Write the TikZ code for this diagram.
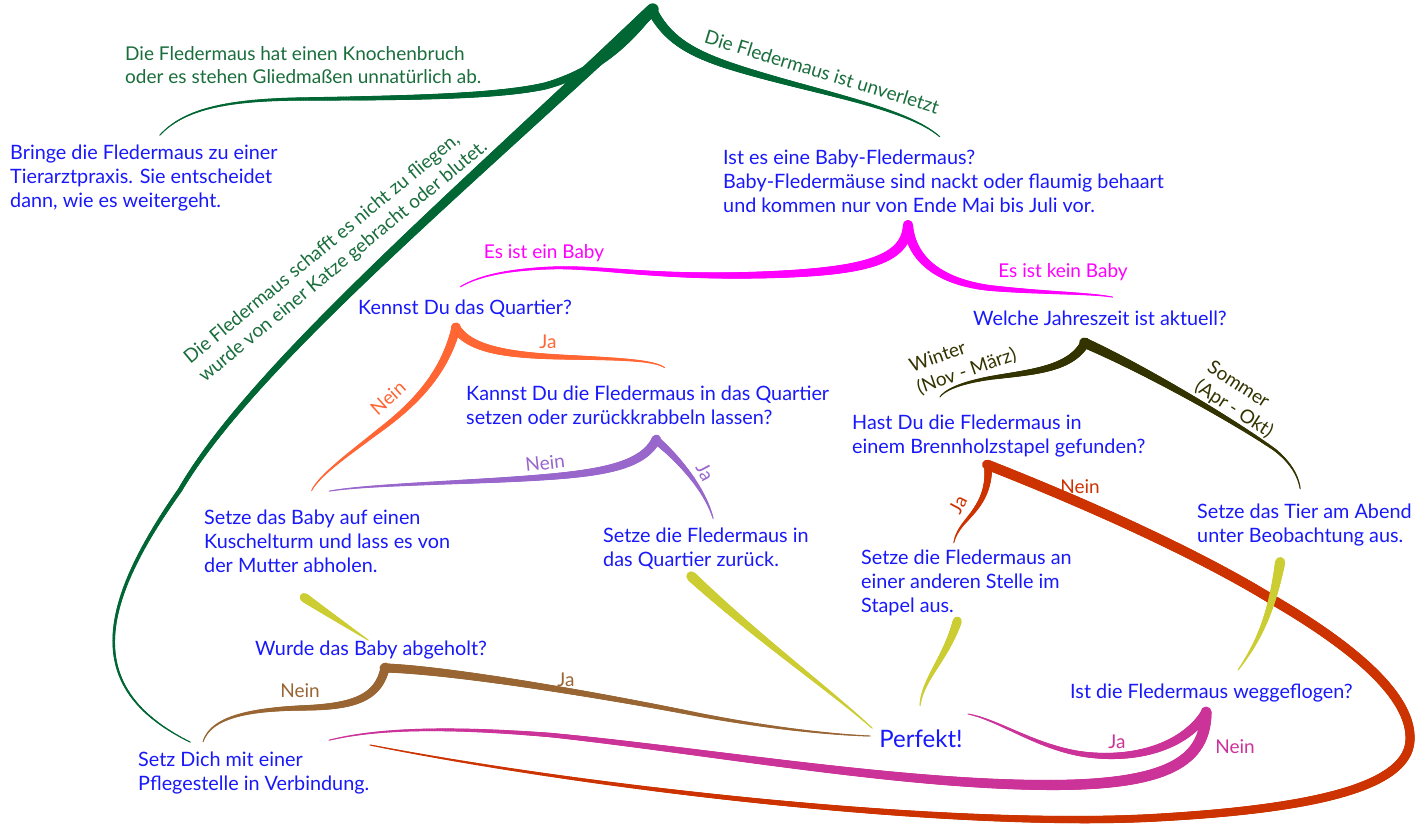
\documentclass[tikz,border=0pt]{standalone}
\usepackage{fontspec}
\setmainfont{Lato}
\usetikzlibrary{decorations.markings}

\definecolor{qblue}{RGB}{25,25,250}
\definecolor{dgreen}{RGB}{0,102,51}
\definecolor{tgreen}{RGB}{25,110,60}
\definecolor{cMag}{RGB}{255,0,255}
\definecolor{cOra}{RGB}{255,102,51}
\definecolor{cPur}{RGB}{153,102,204}
\definecolor{cOli}{RGB}{51,51,0}
\definecolor{cRed}{RGB}{204,51,0}
\definecolor{cRose}{RGB}{204,51,153}
\definecolor{cBro}{RGB}{153,102,51}
\definecolor{cYel}{RGB}{204,204,51}

\tikzset{
  txt/.style={text=qblue, font=\fontsize{19.8}{24}\selectfont, align=left, inner sep=0pt, anchor=west},
  lbl/.style={text=#1, font=\fontsize{19}{23}\selectfont, inner sep=0pt},
  branch/.style n args={3}{color=#1, line cap=round, postaction={decorate}, decoration={markings,
      mark=between positions 0 and 1 step 1.6pt with {
        \pgfmathsetmacro\brw{0.9+(#2-0.9)*(1-max(\pgfkeysvalueof{/pgf/decoration/mark info/distance from start}/\pgfdecoratedpathlength,0.0001)^#3)}
        \pgfsetlinewidth{\brw pt}
        \pgfpathmoveto{\pgfpoint{-1pt}{0pt}}
        \pgfpathlineto{\pgfpoint{1pt}{0pt}}
        \pgfusepath{stroke}
      }}},
}

\begin{document}
\begin{tikzpicture}[x=1pt, y=-1pt]
  \fill[white] (0,0) rectangle (1425,826);
  \useasboundingbox (0,0) rectangle (1425,826);

  \coordinate (rootA) at (652,10);
  \coordinate (rootB) at (908,226);
  \coordinate (rootC) at (456,328);
  \coordinate (rootD) at (656,440);
  \coordinate (rootE) at (1085,343);
  \coordinate (rootF) at (988,465);
  \coordinate (rootG) at (385,668);
  \coordinate (rootH) at (1206,713);

  \coordinate (eBringe) at (160,135);
  \coordinate (eBaby) at (940,137);
  \coordinate (eKennst) at (460,287);
  \coordinate (eWelche) at (1112,297);
  \coordinate (eKannst) at (665,368);
  \coordinate (eKuschelA) at (312,490);
  \coordinate (eKuschelB) at (330,491);
  \coordinate (eZurueck) at (713,518);
  \coordinate (eHast) at (940,397);
  \coordinate (eAbend) at (1300,488);
  \coordinate (eStapel) at (954,542);
  \coordinate (eAbgeholt) at (368,640);
  \coordinate (eWeg) at (1238,670);
  \coordinate (ePerfektA) at (968,714);
  \coordinate (ePerfektB) at (870,736);
  \coordinate (ePerfektC) at (872,728);
  \coordinate (ePerfektD) at (920,706);
  \coordinate (ePflegeA) at (190,742);
  \coordinate (ePflegeB) at (370,745);
  \coordinate (ePflegeC) at (330,740);
  \coordinate (ePflegeD) at (203,742);
  \coordinate (sKuschel) at (305,598);
  \coordinate (sZurueck) at (692,577);
  \coordinate (sStapel) at (957,622);
  \coordinate (sAbend) at (1280,563);

  \path[branch={dgreen}{9}{1}] (rootA) .. controls (625,45) and (595,72) .. (545,86) .. controls (500,96) and (420,98) .. (300,99) .. controls (230,100) and (185,108) .. (eBringe);
  \path[branch={dgreen}{12}{1}] (rootA) .. controls (450,200) and (250,370) .. (180,490) .. controls (95,610) and (85,690) .. (ePflegeA);
  \path[branch={dgreen}{10}{1}] (rootA) .. controls (670,45) and (700,58) .. (760,75) .. controls (830,95) and (910,110) .. (eBaby);

  \path[branch={cMag}{10}{1}] (rootB) .. controls (905,262) and (860,272) .. (760,275) .. controls (650,278) and (600,266) .. (550,268) .. controls (500,270) and (475,278) .. (eKennst);
  \path[branch={cMag}{10}{1}] (rootB) .. controls (912,260) and (940,282) .. (990,288) .. controls (1040,293) and (1090,293) .. (eWelche);

  \path[branch={cOra}{9}{1}] (rootC) .. controls (470,350) and (510,355) .. (560,357) .. controls (620,359) and (655,360) .. (eKannst);
  \path[branch={cOra}{9}{1}] (rootC) .. controls (445,370) and (420,400) .. (380,430) .. controls (345,457) and (320,475) .. (eKuschelA);

  \path[branch={cPur}{9}{1}] (rootD) .. controls (640,470) and (590,475) .. (500,480) .. controls (420,484) and (360,486) .. (eKuschelB);
  \path[branch={cPur}{8}{1}] (rootD) .. controls (680,460) and (705,490) .. (eZurueck);

  \path[branch={cOli}{9}{1}] (rootE) .. controls (1070,370) and (1030,372) .. (990,378) .. controls (960,383) and (945,390) .. (eHast);
  \path[branch={cOli}{10}{1}] (rootE) .. controls (1150,372) and (1240,425) .. (1275,450) .. controls (1290,462) and (1298,475) .. (eAbend);

  \path[branch={cRed}{8}{1}] (rootF) .. controls (990,495) and (975,510) .. (965,522) .. controls (958,530) and (955,537) .. (eStapel);
  \path[branch={cRed}{10}{2}] (rootF) .. controls (1090,505) and (1200,555) .. (1273,600) .. controls (1350,645) and (1412,695) .. (1410,740) .. controls (1408,790) and (1300,810) .. (1150,818) .. controls (950,828) and (600,790) .. (ePflegeB);

  \path[branch={cRose}{10}{1}] (rootH) .. controls (1185,745) and (1140,760) .. (1090,755) .. controls (1040,750) and (1000,720) .. (ePerfektA);
  \path[branch={cRose}{11}{1.5}] (rootH) .. controls (1205,760) and (1170,785) .. (1050,785) .. controls (900,785) and (700,750) .. (550,735) .. controls (450,727) and (380,728) .. (ePflegeC);

  \path[branch={cBro}{9}{1}] (rootG) .. controls (450,670) and (600,695) .. (700,715) .. controls (780,730) and (840,735) .. (ePerfektB);
  \path[branch={cBro}{9}{1}] (rootG) .. controls (378,700) and (350,707) .. (300,708) .. controls (240,710) and (210,720) .. (ePflegeD);

  \path[branch={cYel}{9}{1}] (sKuschel) .. controls (330,615) and (350,628) .. (eAbgeholt);
  \path[branch={cYel}{10}{1}] (sZurueck) .. controls (760,640) and (830,690) .. (ePerfektC);
  \path[branch={cYel}{9}{1}] (sStapel) .. controls (945,660) and (922,680) .. (ePerfektD);
  \path[branch={cYel}{10}{1}] (sAbend) .. controls (1272,610) and (1260,640) .. (eWeg);

  \node[txt] (bringe) at (10,178) {Bringe die Fledermaus zu einer\\Tierarztpraxis. Sie entscheidet\\dann, wie es weitergeht.};
  \node[lbl=tgreen, anchor=west, align=left] (bruch) at (125,65) {Die Fledermaus hat einen Knochenbruch\\oder es stehen Gliedmaßen unnatürlich ab.};
  \node[lbl=tgreen, rotate=-17] (heil) at (822,72) {Die Fledermaus ist unverletzt};
  \node[lbl=tgreen, rotate=39.5, align=left] (flug) at (336,253) {Die Fledermaus schafft es nicht zu fliegen,\\wurde von einer Katze gebracht oder blutet.};
  \node[txt] (babyq) at (723,181) {Ist es eine Baby-Fledermaus?\\Baby-Fledermäuse sind nackt oder flaumig behaart\\und kommen nur von Ende Mai bis Juli vor.};
  \node[lbl=cMag] (istbaby) at (544,253) {Es ist ein Baby};
  \node[lbl=cMag] (keinbaby) at (1063,272) {Es ist kein Baby};
  \node[txt] (kennst) at (358,309) {Kennst Du das Quartier?};
  \node[txt] (welche) at (973,318) {Welche Jahreszeit ist aktuell?};
  \node[lbl=cOra] (jaQ) at (548,342) {Ja};
  \node[lbl=cOra, rotate=42] (neinQ) at (388,398) {Nein};
  \node[txt] (kannst) at (466,405) {Kannst Du die Fledermaus in das Quartier\\setzen oder zurückkrabbeln lassen?};
  \node[lbl=cOli, rotate=19, align=left] (winter) at (963,361) {Winter\\(Nov - März)};
  \node[lbl=cOli, rotate=-33, align=left] (sommer) at (1240,400) {Sommer\\(Apr - Okt)};
  \node[txt] (hast) at (852,436) {Hast Du die Fledermaus in\\einem Brennholzstapel gefunden?};
  \node[lbl=cPur, rotate=6] (neinK) at (545,463) {Nein};
  \node[lbl=cPur, rotate=-62] (jaK) at (705,472) {Ja};
  \node[lbl=cRed] (neinH) at (1080,487) {Nein};
  \node[lbl=cRed, rotate=62] (jaH) at (958,505) {Ja};
  \node[txt] (kuschel) at (204,541) {Setze das Baby auf einen\\Kuschelturm und lass es von\\der Mutter abholen.};
  \node[txt] (zurueck) at (603,549) {Setze die Fledermaus in\\das Quartier zurück.};
  \node[txt] (abend) at (1197,525) {Setze das Tier am Abend\\unter Beobachtung aus.};
  \node[txt] (stapel) at (861,583) {Setze die Fledermaus an\\einer anderen Stelle im\\Stapel aus.};
  \node[txt] (abgeholt) at (255,650) {Wurde das Baby abgeholt?};
  \node[lbl=cBro] (neinW) at (300,691) {Nein};
  \node[lbl=cBro] (jaW) at (566,680) {Ja};
  \node[txt] (weg) at (1070,693) {Ist die Fledermaus weggeflogen?};
  \node[txt, font=\fontsize{24}{28}\selectfont, anchor=center] (perfekt) at (921,739) {Perfekt!};
  \node[lbl=cRose] (jaF) at (1117,742) {Ja};
  \node[lbl=cRose] (neinF) at (1235,747) {Nein};
  \node[txt] (pflege) at (138,773) {Setz Dich mit einer\\Pflegestelle in Verbindung.};
\end{tikzpicture}
\end{document}
